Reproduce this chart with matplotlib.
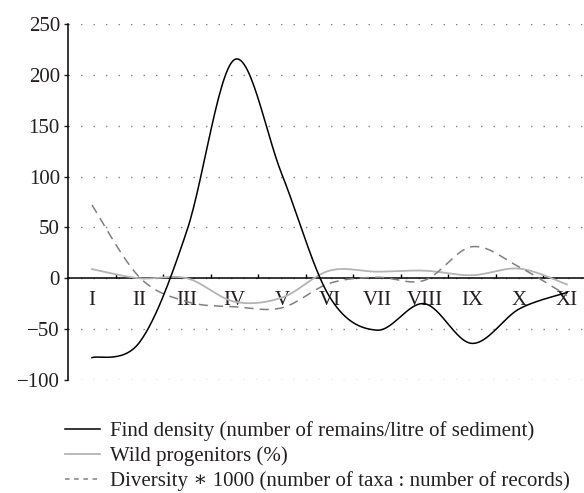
import numpy as np
import matplotlib
matplotlib.use("Agg")
import matplotlib.pyplot as plt
from matplotlib.lines import Line2D

# phases (x categories)
phases = ["I", "II", "III", "IV", "V", "VI", "VII", "VIII", "IX", "X", "XI"]

# series
find_density = [-78, -63, 47, 215, 102, -18, -51, -25, -64, -30, -14]
wild_progenitors = [9, 0, 0, -23, -19, 7.5, 6.5, 7.5, 3, 9.5, -6]
diversity = [72, 1, -23, -28, -29, -5, 1, -2, 31, 11, -17]

labels = ["Find density (number of remains/litre of sediment)",
          "Wild progenitors (%)",
          "Diversity \u2217 1000 (number of taxa : number of records)"]

TXT = "#231f20"
FS = 15
plt.rcParams["font.family"] = ["Liberation Serif", "DejaVu Serif"]
plt.rcParams["font.size"] = FS


def smooth(xs, ys, n=30):
    """Catmull-Rom style bezier smoothing, like a spreadsheet smoothed line."""
    p = np.column_stack([xs, ys]).astype(float)
    p_ext = np.vstack([p[0], p, p[-1]])
    out = []
    t = np.linspace(0, 1, n)[:, None]
    for i in range(len(p) - 1):
        a, b = p_ext[i + 1], p_ext[i + 2]
        c1 = a + (p_ext[i + 2] - p_ext[i]) / 6
        c2 = b - (p_ext[i + 3] - p_ext[i + 1]) / 6
        seg = ((1 - t) ** 3) * a + 3 * ((1 - t) ** 2) * t * c1 + 3 * (1 - t) * t ** 2 * c2 + t ** 3 * b
        out.append(seg if i == 0 else seg[1:])
    out = np.vstack(out)
    return out[:, 0], out[:, 1]


W, H = 584, 493
fig = plt.figure(figsize=(W / 100, H / 100), dpi=100)
ax = fig.add_axes([68.25 / W, 113 / H, (W - 68.25) / W, 356 / H])

x = np.arange(len(phases))
sx, sy = smooth(x, find_density)
ax.plot(sx, sy, color="black", lw=1.1, zorder=4)
sx, sy = smooth(x, wild_progenitors)
ax.plot(sx, sy, color="#b4b4b4", lw=1.3, zorder=3)
sx, sy = smooth(x, diversity)
ax.plot(sx, sy, color="#808080", lw=1.1, dashes=(6, 4), zorder=3)

ax.set_xlim(-0.5, 10.36)
ax.set_ylim(-100, 250)
ax.set_yticks(np.arange(-100, 251, 50))
ax.grid(axis="y", color="#808080", lw=1, ls=(0, (1, 8)))
ax.set_axisbelow(True)

for s in ["top", "right"]:
    ax.spines[s].set_visible(False)
ax.spines["bottom"].set_position(("data", 0))
ax.spines["left"].set_linewidth(1.1)
ax.spines["bottom"].set_linewidth(1.1)

ax.set_xticks(x)
ax.set_xticklabels(phases)
ax.set_xticks(np.arange(0.5, 10.4, 1), minor=True)
ax.tick_params(axis="x", which="major", length=0, pad=9, colors=TXT, labelsize=FS)
ax.tick_params(axis="x", which="minor", direction="in", length=3, width=1)
ax.tick_params(axis="y", length=3, width=1, pad=3, colors=TXT, labelsize=FS)

handles = [Line2D([], [], color="black", lw=1.1),
           Line2D([], [], color="#b4b4b4", lw=1.3),
           Line2D([], [], color="#808080", lw=1.1, dashes=(3, 3))]
leg = fig.legend(handles, labels, loc="upper left", bbox_to_anchor=(65 / W, 1 - 421 / H),
                 frameon=False, borderpad=0, borderaxespad=0, handlelength=1.7,
                 handletextpad=0.45, labelspacing=0.25, fontsize=FS)
for t in leg.get_texts():
    t.set_color(TXT)

fig.savefig("out.png", dpi=100)
